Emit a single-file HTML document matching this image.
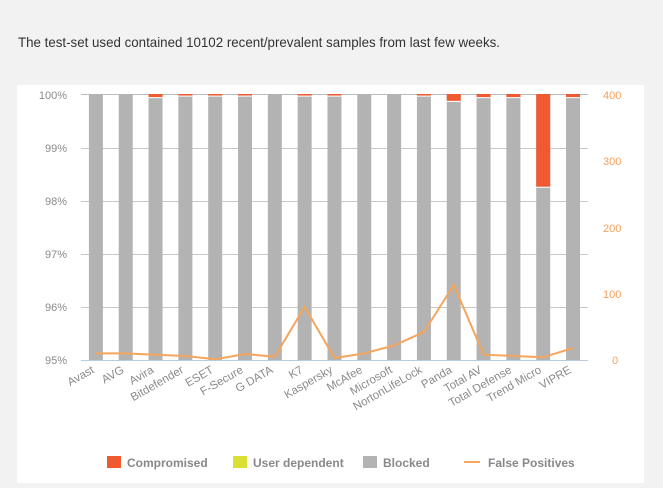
<!DOCTYPE html>
<html><head><style>
body{margin:0;background:#f2f2f2;width:663px;height:483px;overflow:hidden;font-family:"Liberation Sans",sans-serif}
</style></head><body>
<svg width="663" height="483" xmlns="http://www.w3.org/2000/svg" font-family="Liberation Sans, sans-serif">
<text x="18" y="47" font-size="14" fill="#333" textLength="482" lengthAdjust="spacingAndGlyphs">The test-set used contained 10102 recent/prevalent samples from last few weeks.</text>
<rect x="17" y="85" width="627" height="398" fill="#fff"/>
<g stroke="#c8c8c8" stroke-width="1">
<line x1="81" x2="588" y1="148.5" y2="148.5"/>
<line x1="81" x2="588" y1="201.5" y2="201.5"/>
<line x1="81" x2="588" y1="254.5" y2="254.5"/>
<line x1="81" x2="588" y1="307.5" y2="307.5"/>
<line x1="81" x2="588" y1="94.5" y2="94.5" stroke="#bbb"/>
</g>
<g font-size="11" fill="#8a8a8a" text-anchor="end">
<text x="67" y="99">100%</text><text x="67" y="152">99%</text><text x="67" y="205">98%</text>
<text x="67" y="258">97%</text><text x="67" y="311">96%</text><text x="67" y="364">95%</text>
</g>
<g font-size="11" fill="#f5a05a">
<text x="603" y="99">400</text><text x="603" y="165">300</text><text x="603" y="232">200</text>
<text x="603" y="298">100</text><text x="612" y="364">0</text>
</g>
<g id="bars"></g>
<line x1="81" x2="588" y1="360.5" y2="360.5" stroke="#b8cce0"/>
<polyline id="fp" fill="none" stroke="#f5a55c" stroke-width="2" points=""/>
<g id="labels" font-size="11.5" fill="#8a8a8a"></g>
<g font-size="12" font-weight="bold" fill="#888">
<rect x="107" y="456" width="14" height="12" fill="#f05a30"/><text x="127" y="467">Compromised</text>
<rect x="233" y="456" width="14" height="12" fill="#d9df35"/><text x="253" y="467">User dependent</text>
<rect x="363" y="456" width="14" height="12" fill="#b3b3b3"/><text x="383" y="467">Blocked</text>
<line x1="464" x2="480" y1="462" y2="462" stroke="#f5a55c" stroke-width="2"/><text x="488" y="467">False Positives</text>
</g>
</svg>
<script>
var names=["Avast","AVG","Avira","Bitdefender","ESET","F-Secure","G DATA","K7","Kaspersky","McAfee","Microsoft","NortonLifeLock","Panda","Total AV","Total Defense","Trend Micro","VIPRE"];
var comp=[0,0,0.06,0.03,0.03,0.03,0,0.03,0.03,0,0,0.03,0.13,0.06,0.06,1.75,0.06];
var fp=[10,10,8,6,1,9,5,80,3,10,22,42,113,8,6,4,18];
var ns="http://www.w3.org/2000/svg",b=document.getElementById("bars"),l=document.getElementById("labels"),pts=[];
function el(t,a,p){var e=document.createElementNS(ns,t);for(var k in a)e.setAttribute(k,a[k]);p.appendChild(e);return e;}
for(var i=0;i<17;i++){var cx=81+29.82*(i+0.5),x=cx-7,c=comp[i]*53;
el("rect",{x:x,y:94,width:14,height:266,fill:"#b3b3b3"},b);
if(c>0){el("rect",{x:x,y:94,width:14,height:c,fill:"#f05a30"},b);el("rect",{x:x,y:94+c,width:14,height:1,fill:"#fff"},b);}
pts.push(cx.toFixed(1)+","+(360-fp[i]*0.665).toFixed(1));
var lx=cx-1,ly=372;
var t=el("text",{x:lx,y:ly,"text-anchor":"end",transform:"rotate(-30 "+lx+" "+ly+")"},l);t.textContent=names[i];}
document.getElementById("fp").setAttribute("points",pts.join(" "));
</script>
</body></html>
